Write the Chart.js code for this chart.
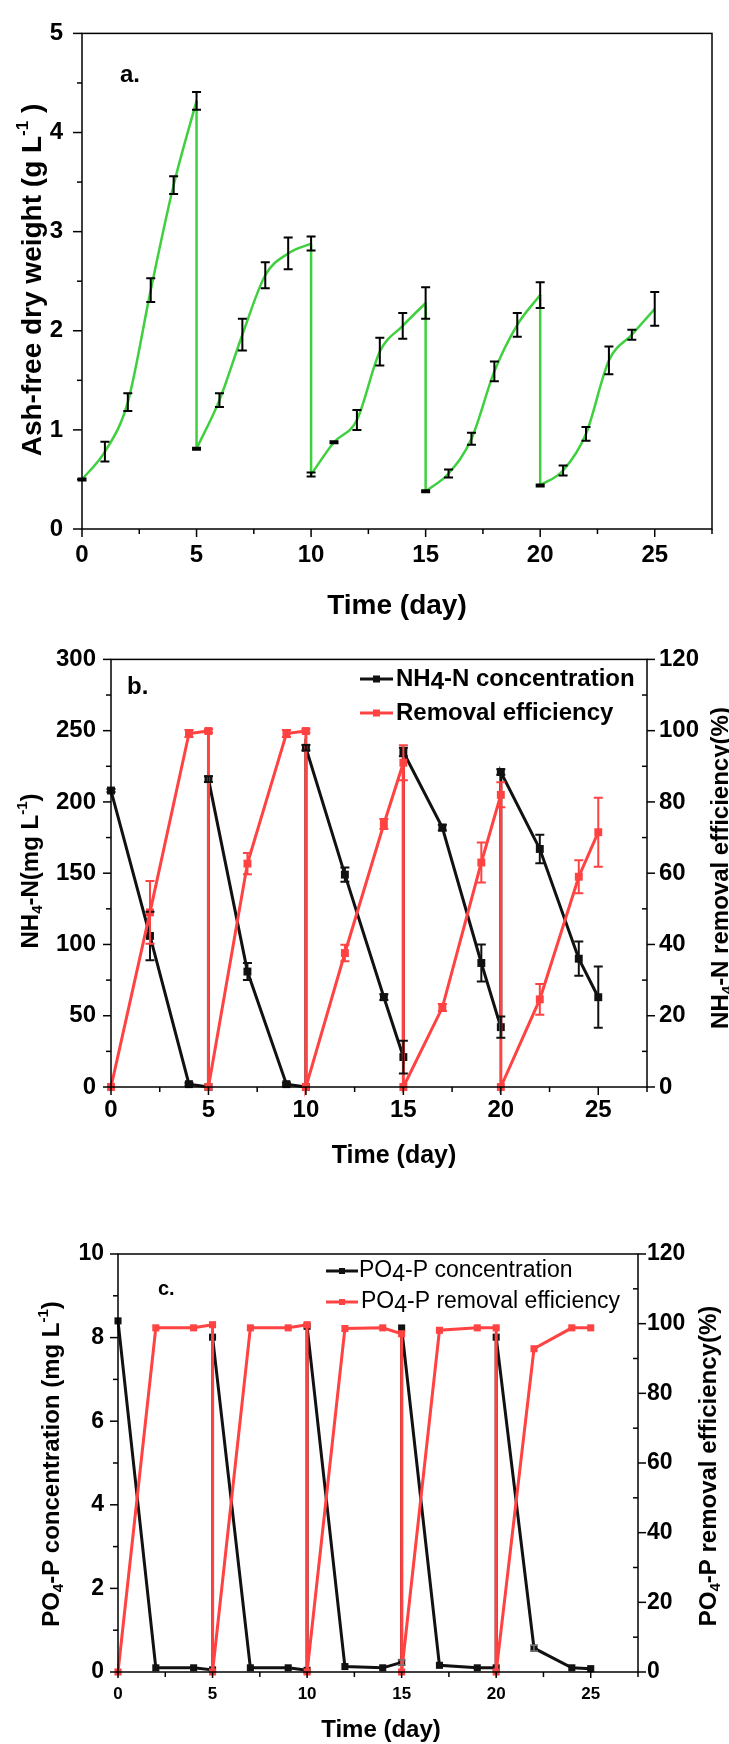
<!DOCTYPE html>
<html lang="en">
<head>
    <meta charset="UTF-8">
    <title>Biomass and nutrient removal</title>
    <script src="https://cdn.jsdelivr.net/npm/chart.js"></script>
    <style>
        body { margin: 0; background: #fff; }
        #page { position: relative; width: 729px; height: 1744px; }
        canvas { position: absolute; left: 0; }
    </style>
</head>
<body>
<div id="page">
    <canvas id="chartA" width="729" height="630" style="top:0"></canvas>
    <canvas id="chartB" width="729" height="545" style="top:630px"></canvas>
    <canvas id="chartC" width="729" height="569" style="top:1175px"></canvas>
</div>

<script>
// a. ash-free dry weight, sampled daily; the repeated day is the harvest/dilution drop
const dayA = [0, 1, 2, 3, 4, 5, 5, 6, 7, 8, 9, 10, 10, 11, 12, 13, 14, 15, 15, 16, 17, 18, 19, 20, 20, 21, 22, 23, 24, 25];
const afdw = [0.50, 0.78, 1.28, 2.41, 3.47, 4.32, 0.81, 1.30, 1.96, 2.56, 2.78, 2.88, 0.55, 0.875, 1.10, 1.79, 2.05, 2.28, 0.38, 0.56, 0.91, 1.59, 2.06, 2.36, 0.44, 0.59, 0.96, 1.70, 1.96, 2.22];
const afdwErr = [0.01, 0.10, 0.09, 0.12, 0.09, 0.09, 0.01, 0.07, 0.16, 0.13, 0.16, 0.07, 0.02, 0.01, 0.10, 0.14, 0.13, 0.16, 0.01, 0.04, 0.06, 0.10, 0.12, 0.13, 0.01, 0.05, 0.07, 0.14, 0.05, 0.17];

// b. and c. share the same sampling days
const dayN = [0, 2, 4, 5, 5, 7, 9, 10, 10, 12, 14, 15, 15, 17, 19, 20, 20, 22, 24, 25];

const nh4 = [208, 106, 2, 0, 216, 81, 2, 0, 238, 149, 63, 21, 235, 182, 87, 42, 221, 167, 90, 63];
const nh4Err = [1, 17, 1, 0, 2, 6, 1, 0, 2, 5, 2, 11.5, 3, 2, 13, 7.5, 2, 10, 12, 21.5];
const nh4Removal = [0, 49, 99.2, 99.9, 0, 62.7, 99.2, 99.9, 0, 37.6, 73.8, 91, 0, 22.3, 63, 82, 0, 24.6, 59, 71.5];
const nh4RemovalErr = [0, 8.8, 1, 0.5, 0, 3, 1, 0.5, 0, 2.3, 1.4, 4.9, 0, 1, 5.6, 3.5, 0, 4.3, 4.6, 9.7];

const po4 = [8.40, 0.10, 0.10, 0.05, 8.01, 0.10, 0.10, 0.04, 8.27, 0.13, 0.10, 0.23, 8.23, 0.16, 0.10, 0.10, 8.01, 0.57, 0.10, 0.08];
const po4Err = [0, 0, 0, 0, 0, 0, 0, 0, 0, 0, 0, 0.06, 0, 0, 0, 0, 0, 0.07, 0, 0];
const po4Removal = [0, 98.8, 98.8, 99.7, 0, 98.8, 98.8, 99.7, 0, 98.6, 98.8, 97.1, 0, 98.1, 98.8, 98.8, 0, 92.8, 98.8, 98.8];

const FONT = '"Liberation Sans", Arial, Helvetica, sans-serif';
const RED = '#ff4242';
const GREEN = '#3fd03f';
const BLACK = '#111';

Chart.defaults.font.family = FONT;
Chart.defaults.color = '#000';

// text with sub/superscripts: parts are strings or [text, 'sub'|'sup'|'low']
function drawRich(ctx, item) {
    const size = item.size, weight = item.weight || 'bold';
    const pieces = item.parts.map(p => typeof p === 'string' ? { t: p, k: '' } : { t: p[0], k: p[1] });
    const fontFor = k => `${weight} ${(k === 'sub' || k === 'sup') ? Math.round(size * 0.62) : size}px ${FONT}`;
    let total = 0;
    pieces.forEach(p => { ctx.font = fontFor(p.k); p.w = ctx.measureText(p.t).width; total += p.w; });
    ctx.save();
    ctx.translate(item.x, item.y);
    if (item.rotate) ctx.rotate(item.rotate * Math.PI / 180);
    let cx = item.align === 'left' ? 0 : -total / 2;
    ctx.textBaseline = 'middle';
    ctx.textAlign = 'left';
    ctx.fillStyle = '#000';
    pieces.forEach(p => {
        ctx.font = fontFor(p.k);
        const dy = p.k === 'sub' ? size * 0.3 : p.k === 'sup' ? -size * 0.33 : p.k === 'low' ? size * 0.14 : 0;
        ctx.fillText(p.t, cx, dy);
        cx += p.w;
    });
    ctx.restore();
}

// frame around the plot plus major/minor tick marks
const axisFrame = {
    id: 'axisFrame',
    afterDraw(chart, args, opts) {
        const { ctx, chartArea: a } = chart;
        ctx.save();
        ctx.strokeStyle = '#000';
        ctx.lineWidth = 1.5;
        ctx.strokeRect(a.left, a.top, a.right - a.left, a.bottom - a.top);
        (opts.axes || []).forEach(ax => {
            const scale = chart.scales[ax.scale];
            const n = Math.round((scale.max - scale.min) / ax.minor);
            for (let i = 0; i <= n; i++) {
                const v = scale.min + i * ax.minor;
                const isMajor = Math.abs(v / ax.major - Math.round(v / ax.major)) < 1e-6;
                const len = isMajor ? ax.majorLen : ax.minorLen;
                const inward = !isMajor && ax.minorIn;
                const p = scale.getPixelForValue(v);
                ctx.beginPath();
                if (ax.side === 'bottom') {
                    ctx.moveTo(p, a.bottom);
                    ctx.lineTo(p, a.bottom + (inward ? -len : len));
                } else if (ax.side === 'left') {
                    ctx.moveTo(a.left, p);
                    ctx.lineTo(a.left + (inward ? len : -len), p);
                } else {
                    ctx.moveTo(a.right, p);
                    ctx.lineTo(a.right + (inward ? -len : len), p);
                }
                ctx.stroke();
            }
        });
        ctx.restore();
    }
};

// vertical error bars with caps
const errorBars = {
    id: 'errorBars',
    afterDatasetsDraw(chart, args, opts) {
        const ctx = chart.ctx;
        ctx.save();
        (opts.series || []).forEach(s => {
            const xs = chart.scales.x, ys = chart.scales[s.axis];
            ctx.strokeStyle = s.color;
            ctx.lineWidth = s.width || 2;
            s.x.forEach((xv, i) => {
                const e = s.err[i];
                if (!e) return;
                const px = xs.getPixelForValue(xv);
                const top = ys.getPixelForValue(s.y[i] + e);
                const bot = ys.getPixelForValue(s.y[i] - e);
                const c = s.cap;
                ctx.beginPath();
                ctx.moveTo(px, top); ctx.lineTo(px, bot);
                ctx.moveTo(px - c, top); ctx.lineTo(px + c, top);
                ctx.moveTo(px - c, bot); ctx.lineTo(px + c, bot);
                ctx.stroke();
            });
        });
        ctx.restore();
    }
};

// panel letter, axis titles and in-plot legend
const annotations = {
    id: 'annotations',
    afterDraw(chart, args, opts) {
        const ctx = chart.ctx;
        (opts.legend || []).forEach(l => {
            ctx.save();
            ctx.strokeStyle = l.color;
            ctx.fillStyle = l.color;
            ctx.lineWidth = 3;
            ctx.beginPath();
            ctx.moveTo(l.x0, l.y); ctx.lineTo(l.x1, l.y);
            ctx.stroke();
            const m = l.marker / 2, cx = (l.x0 + l.x1) / 2;
            ctx.fillRect(cx - m, l.y - m, 2 * m, 2 * m);
            ctx.restore();
            drawRich(ctx, { parts: l.parts, x: l.textX, y: l.y, size: l.size, weight: l.weight, align: 'left' });
        });
        (opts.texts || []).forEach(t => drawRich(ctx, t));
    }
};

function tickFont(size) {
    return { family: FONT, size: size, weight: 'bold' };
}

function xAxis(fontSize, pad, height) {
    return {
        type: 'linear', min: 0, max: 27.5,
        grid: { display: false, drawTicks: false }, border: { display: false },
        ticks: { stepSize: 5, includeBounds: false, padding: pad, color: '#000', font: tickFont(fontSize), maxRotation: 0 },
        afterFit: s => { s.height = height; }
    };
}

function yAxis(pos, max, step, fontSize, pad, width) {
    return {
        type: 'linear', position: pos, min: 0, max: max,
        grid: { display: false, drawTicks: false }, border: { display: false },
        ticks: { stepSize: step, includeBounds: false, padding: pad, color: '#000', font: tickFont(fontSize) },
        afterFit: s => { s.width = width; }
    };
}

function pts(xs, ys) {
    return xs.map((x, i) => ({ x: x, y: ys[i] }));
}

// split a series into growth cycles (smoothed) and the straight drops between them
function splitCycles(xs, ys) {
    const cycles = [], drops = [];
    let cur = [];
    xs.forEach((x, i) => {
        if (i > 0 && x === xs[i - 1]) {
            cycles.push(cur);
            cur = [];
            drops.push({ x: xs[i - 1], y: ys[i - 1] }, { x: x, y: ys[i] }, { x: x, y: null });
        }
        cur.push({ x: x, y: ys[i] });
    });
    cycles.push(cur);
    return { cycles, drops };
}

const common = {
    responsive: false,
    animation: false,
    events: [],
    plugins: { legend: { display: false }, tooltip: { enabled: false } }
};

// ---- a. ----
const split = splitCycles(dayA, afdw);
const datasetsA = split.cycles.map(c => ({
    data: c, borderColor: GREEN, borderWidth: 2.5, pointRadius: 0,
    cubicInterpolationMode: 'monotone', clip: false
}));
datasetsA.push({ data: split.drops, borderColor: GREEN, borderWidth: 2.5, pointRadius: 0, tension: 0, spanGaps: false, clip: false });

new Chart(document.getElementById('chartA'), {
    type: 'line',
    data: { datasets: datasetsA },
    plugins: [axisFrame, errorBars, annotations],
    options: {
        ...common,
        layout: { padding: { top: 24, right: 17, bottom: 0, left: 0 } },
        scales: {
            x: xAxis(24, 12, 101),
            y: yAxis('left', 5, 1, 24, 19, 82)
        },
        plugins: {
            ...common.plugins,
            axisFrame: { axes: [
                { scale: 'x', side: 'bottom', major: 5, minor: 2.5, majorLen: 8, minorLen: 5 },
                { scale: 'y', side: 'left', major: 1, minor: 0.5, majorLen: 9, minorLen: 5 }
            ] },
            errorBars: { series: [{ x: dayA, y: afdw, err: afdwErr, axis: 'y', color: '#000', cap: 4.5, width: 2 }] },
            annotations: { texts: [
                { parts: ['a.'], x: 120, y: 75, size: 24, align: 'left' },
                { parts: ['Ash-free dry weight (g L', ['-1', 'sup'], ' )'], x: 33, y: 280, size: 28, rotate: -90 },
                { parts: ['Time (day)'], x: 397, y: 606, size: 28 }
            ] }
        }
    }
});

// ---- b. ----
new Chart(document.getElementById('chartB'), {
    type: 'line',
    data: { datasets: [
        { data: pts(dayN, nh4Removal), yAxisID: 'y2', borderColor: RED, backgroundColor: RED, borderWidth: 3,
          pointStyle: 'rect', pointRadius: 5.6, pointBorderWidth: 0, tension: 0, clip: false, order: 1 },
        { data: pts(dayN, nh4), yAxisID: 'y', borderColor: BLACK, backgroundColor: BLACK, borderWidth: 3,
          pointStyle: 'rect', pointRadius: 5.6, pointBorderWidth: 0, tension: 0, clip: false, order: 2 }
    ] },
    plugins: [axisFrame, errorBars, annotations],
    options: {
        ...common,
        layout: { padding: { top: 26, right: 0, bottom: 0, left: 0 } },
        scales: {
            x: xAxis(24, 9, 88),
            y: yAxis('left', 300, 50, 24, 15, 111),
            y2: yAxis('right', 120, 20, 24, 12, 82)
        },
        plugins: {
            ...common.plugins,
            axisFrame: { axes: [
                { scale: 'x', side: 'bottom', major: 5, minor: 2.5, majorLen: 8, minorLen: 5 },
                { scale: 'y', side: 'left', major: 50, minor: 25, majorLen: 8, minorLen: 5 },
                { scale: 'y2', side: 'right', major: 20, minor: 10, majorLen: 8, minorLen: 5, minorIn: true }
            ] },
            errorBars: { series: [
                { x: dayN, y: nh4, err: nh4Err, axis: 'y', color: BLACK, cap: 4.5, width: 2 },
                { x: dayN, y: nh4Removal, err: nh4RemovalErr, axis: 'y2', color: RED, cap: 4.5, width: 2 }
            ] },
            annotations: {
                legend: [
                    { parts: ['NH', ['4', 'low'], '-N concentration'], color: BLACK, x0: 360, x1: 393, textX: 396, y: 49, size: 24, weight: 'bold', marker: 7 },
                    { parts: ['Removal efficiency'], color: RED, x0: 360, x1: 393, textX: 396, y: 83, size: 24, weight: 'bold', marker: 7 }
                ],
                texts: [
                    { parts: ['b.'], x: 127, y: 57, size: 24, align: 'left' },
                    { parts: ['NH', ['4', 'sub'], '-N(mg L', ['-1', 'sup'], ')'], x: 31, y: 241, size: 24, rotate: -90 },
                    { parts: ['NH', ['4', 'sub'], '-N removal efficiency(%)'], x: 721, y: 238, size: 24, rotate: -90 },
                    { parts: ['Time (day)'], x: 394, y: 526, size: 25 }
                ]
            }
        }
    }
});

// ---- c. ----
new Chart(document.getElementById('chartC'), {
    type: 'line',
    data: { datasets: [
        { data: pts(dayN, po4Removal), yAxisID: 'y2', borderColor: RED, backgroundColor: RED, borderWidth: 3,
          pointStyle: 'rect', pointRadius: 5, pointBorderWidth: 0, tension: 0, clip: false, order: 1 },
        { data: pts(dayN, po4), yAxisID: 'y', borderColor: BLACK, backgroundColor: BLACK, borderWidth: 3,
          pointStyle: 'rect', pointRadius: 5, pointBorderWidth: 0, tension: 0, clip: false, order: 2 }
    ] },
    plugins: [axisFrame, errorBars, annotations],
    options: {
        ...common,
        layout: { padding: { top: 79, right: 0, bottom: 0, left: 0 } },
        scales: {
            x: xAxis(17, 12, 72),
            y: yAxis('left', 10, 2, 23, 14, 118),
            y2: yAxis('right', 120, 20, 23, 9, 91)
        },
        plugins: {
            ...common.plugins,
            axisFrame: { axes: [
                { scale: 'x', side: 'bottom', major: 5, minor: 2.5, majorLen: 6, minorLen: 5 },
                { scale: 'y', side: 'left', major: 2, minor: 1, majorLen: 8, minorLen: 5 },
                { scale: 'y2', side: 'right', major: 20, minor: 10, majorLen: 8, minorLen: 5, minorIn: true }
            ] },
            errorBars: { series: [
                { x: dayN, y: po4, err: po4Err, axis: 'y', color: '#777', cap: 4, width: 1.5 }
            ] },
            annotations: {
                legend: [
                    { parts: ['PO', ['4', 'low'], '-P concentration'], color: BLACK, x0: 326, x1: 358, textX: 359, y: 96, size: 23, weight: 'normal', marker: 6 },
                    { parts: ['PO', ['4', 'low'], '-P removal efficiency'], color: RED, x0: 326, x1: 358, textX: 361, y: 127, size: 23, weight: 'normal', marker: 6 }
                ],
                texts: [
                    { parts: ['c.'], x: 158, y: 114, size: 20, align: 'left' },
                    { parts: ['PO', ['4', 'sub'], '-P concentration (mg L', ['-1', 'sup'], ')'], x: 52, y: 289, size: 24, rotate: -90 },
                    { parts: ['PO', ['4', 'sub'], '-P removal efficiency(%)'], x: 709, y: 291, size: 24, rotate: -90 },
                    { parts: ['Time (day)'], x: 381, y: 555, size: 24 }
                ]
            }
        }
    }
});
</script>
</body>
</html>
